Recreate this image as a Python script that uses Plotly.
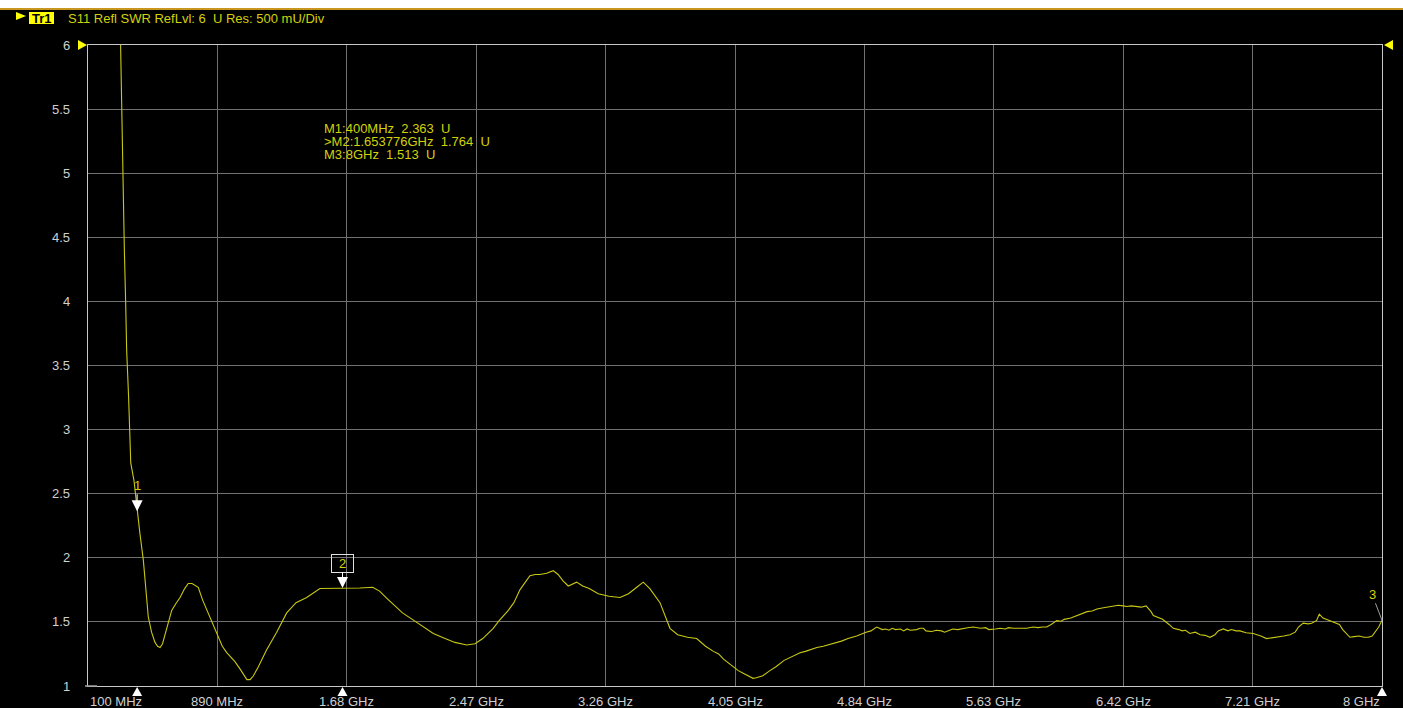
import plotly.graph_objects as go

# ---------------- data ----------------
freq_ghz = [
    0.299, 0.309, 0.312, 0.322, 0.330, 0.336, 0.348, 0.361, 0.381, 0.400, 0.417, 0.438,
    0.452, 0.468, 0.488, 0.509, 0.525, 0.540, 0.555, 0.570, 0.590, 0.611, 0.635, 0.662,
    0.690, 0.712, 0.735, 0.750, 0.773, 0.800, 0.845, 0.870, 0.896, 0.920, 0.947, 0.975,
    0.997, 1.030, 1.055, 1.070, 1.090, 1.110, 1.140, 1.190, 1.252, 1.313, 1.370, 1.435,
    1.516, 1.560, 1.600, 1.654, 1.700, 1.760, 1.838, 1.880, 1.920, 1.970, 2.020, 2.080,
    2.140, 2.208, 2.280, 2.340, 2.412, 2.463, 2.510, 2.574, 2.610, 2.666, 2.700, 2.737,
    2.770, 2.798, 2.830, 2.859, 2.900, 2.940, 2.970, 3.000, 3.032, 3.060, 3.083, 3.120,
    3.160, 3.215, 3.250, 3.280, 3.348, 3.400, 3.450, 3.490, 3.530, 3.592, 3.653, 3.700,
    3.730, 3.760, 3.816, 3.840, 3.870, 3.918, 3.950, 3.980, 4.010, 4.040, 4.070, 4.100,
    4.142, 4.160, 4.180, 4.220, 4.263, 4.300, 4.350, 4.400, 4.447, 4.480, 4.520, 4.550,
    4.589, 4.620, 4.650, 4.700, 4.740, 4.793, 4.850, 4.880, 4.915, 4.950, 4.970, 4.990,
    5.010, 5.030, 5.060, 5.080, 5.100, 5.120, 5.159, 5.180, 5.200, 5.216, 5.250, 5.280,
    5.310, 5.330, 5.360, 5.380, 5.410, 5.440, 5.470, 5.504, 5.530, 5.550, 5.580, 5.600,
    5.640, 5.668, 5.700, 5.720, 5.750, 5.780, 5.810, 5.831, 5.870, 5.900, 5.930, 5.953,
    5.980, 6.014, 6.040, 6.060, 6.100, 6.136, 6.170, 6.200, 6.230, 6.260, 6.300, 6.339,
    6.370, 6.390, 6.420, 6.441, 6.470, 6.500, 6.530, 6.560, 6.590, 6.604, 6.630, 6.660,
    6.700, 6.726, 6.760, 6.780, 6.800, 6.827, 6.860, 6.890, 6.920, 6.950, 6.980, 7.000,
    7.031, 7.060, 7.080, 7.110, 7.133, 7.170, 7.214, 7.240, 7.260, 7.296, 7.330, 7.360,
    7.400, 7.438, 7.470, 7.490, 7.519, 7.550, 7.570, 7.600, 7.617, 7.640, 7.660, 7.690,
    7.712, 7.740, 7.760, 7.804, 7.830, 7.860, 7.890, 7.917, 7.940, 7.960, 7.980, 8.000,
]
swr = [
    6.00, 5.34, 4.85, 4.40, 3.99, 3.62, 3.25, 2.74, 2.60, 2.363, 2.19, 1.98,
    1.75, 1.54, 1.42, 1.34, 1.31, 1.30, 1.33, 1.40, 1.50, 1.59, 1.64, 1.69,
    1.76, 1.80, 1.80, 1.79, 1.77, 1.67, 1.54, 1.46, 1.38, 1.31, 1.26, 1.22,
    1.19, 1.13, 1.08, 1.05, 1.05, 1.08, 1.15, 1.28, 1.42, 1.57, 1.65, 1.69,
    1.76, 1.76, 1.765, 1.764, 1.765, 1.765, 1.77, 1.74, 1.69, 1.63, 1.57, 1.52,
    1.47, 1.41, 1.37, 1.34, 1.32, 1.33, 1.37, 1.45, 1.51, 1.59, 1.65, 1.75,
    1.81, 1.86, 1.87, 1.87, 1.88, 1.90, 1.87, 1.82, 1.78, 1.80, 1.81, 1.78,
    1.76, 1.72, 1.71, 1.70, 1.69, 1.72, 1.77, 1.81, 1.76, 1.65, 1.45, 1.40,
    1.39, 1.38, 1.37, 1.34, 1.31, 1.27, 1.25, 1.21, 1.18, 1.15, 1.12, 1.10,
    1.07, 1.06, 1.065, 1.08, 1.12, 1.15, 1.20, 1.23, 1.26, 1.27, 1.29, 1.30,
    1.31, 1.32, 1.33, 1.35, 1.37, 1.39, 1.42, 1.43, 1.46, 1.44, 1.445, 1.435,
    1.45, 1.44, 1.445, 1.43, 1.445, 1.435, 1.44, 1.45, 1.45, 1.43, 1.425, 1.435,
    1.43, 1.42, 1.435, 1.445, 1.44, 1.45, 1.455, 1.46, 1.455, 1.45, 1.455, 1.44,
    1.445, 1.45, 1.445, 1.455, 1.45, 1.45, 1.455, 1.45, 1.46, 1.455, 1.46, 1.46,
    1.48, 1.51, 1.505, 1.52, 1.53, 1.55, 1.565, 1.58, 1.585, 1.60, 1.61, 1.62,
    1.625, 1.63, 1.625, 1.62, 1.625, 1.62, 1.615, 1.625, 1.58, 1.55, 1.535, 1.52,
    1.48, 1.45, 1.44, 1.43, 1.435, 1.41, 1.42, 1.40, 1.395, 1.38, 1.40, 1.43,
    1.445, 1.43, 1.44, 1.43, 1.43, 1.415, 1.41, 1.40, 1.39, 1.37, 1.375, 1.38,
    1.39, 1.40, 1.42, 1.46, 1.49, 1.485, 1.49, 1.51, 1.56, 1.53, 1.52, 1.51,
    1.50, 1.48, 1.44, 1.38, 1.385, 1.39, 1.38, 1.38, 1.39, 1.43, 1.46, 1.513,
]

x_tick_vals = [0.1, 0.89, 1.68, 2.47, 3.26, 4.05, 4.84, 5.63, 6.42, 7.21, 8.0]
x_tick_text = ["100 MHz", "890 MHz", "1.68 GHz", "2.47 GHz", "3.26 GHz", "4.05 GHz",
               "4.84 GHz", "5.63 GHz", "6.42 GHz", "7.21 GHz", "8 GHz"]
y_tick_vals = [1, 1.5, 2, 2.5, 3, 3.5, 4, 4.5, 5, 5.5, 6]
y_tick_text = ["1", "1.5", "2", "2.5", "3", "3.5", "4", "4.5", "5", "5.5", "6"]

marker_labels = ["1", "2", "3"]
marker_freq = [0.4, 1.653776, 8.0]
marker_swr = [2.363, 1.764, 1.513]
readout_lines = ["M1:400MHz  2.363  U", ">M2:1.653776GHz  1.764  U", "M3:8GHz  1.513  U"]
header_text = "S11 Refl SWR RefLvl: 6  U Res: 500 mU/Div"
trace_name = "Tr1"

# ---------------- style ----------------
FONT = "Liberation Sans, Arial, sans-serif"
FS = 13
TRACE_COL = "#c8c814"
TEXT_YEL = "#d2d20a"
BRIGHT_YEL = "#ffff00"
GRID_COL = "#707070"
BORDER_COL = "#c8c8c8"
LABEL_COL = "#d0d0d0"

FIG_W, FIG_H = 1403, 708
L, R, T, B = 88, 1382, 45, 686
X_MIN, X_MAX = x_tick_vals[0], x_tick_vals[-1]


def nb(s):
    return s.replace(" ", "\u00a0")


fig = go.Figure()
fig.add_trace(go.Scatter(x=freq_ghz, y=swr, mode="lines",
                         line=dict(color=TRACE_COL, width=1.1),
                         hoverinfo="skip", showlegend=False))

annotations = []
shapes = []

# y tick labels
for v, t in zip(y_tick_vals, y_tick_text):
    annotations.append(dict(xref="paper", x=0, xanchor="right", xshift=-16,
                            yref="y", y=v, yanchor="middle", text=t, showarrow=False,
                            font=dict(family=FONT, size=FS, color=LABEL_COL)))
# x tick labels
for i, (v, t) in enumerate(zip(x_tick_vals, x_tick_text)):
    anchor = "left" if i == 0 else ("right" if i == len(x_tick_vals) - 1 else "center")
    annotations.append(dict(xref="x", x=v, xanchor=anchor, yref="paper", y=0,
                            yanchor="middle", yshift=-15.5, text=nb(t), showarrow=False,
                            font=dict(family=FONT, size=FS, color=LABEL_COL)))

# header
annotations.append(dict(xref="paper", x=0, xshift=-46.5, xanchor="center",
                        yref="paper", y=1, yshift=27, yanchor="middle",
                        text="<b>" + trace_name + "</b>", showarrow=False,
                        font=dict(family=FONT, size=FS, color="#000000")))
annotations.append(dict(xref="paper", x=0, xshift=-22, xanchor="left",
                        yref="paper", y=1, yshift=27, yanchor="middle",
                        text=nb(header_text), showarrow=False,
                        font=dict(family=FONT, size=FS, color=TEXT_YEL)))
# marker readouts
for i, line in enumerate(readout_lines):
    annotations.append(dict(xref="paper", x=0, xshift=234, xanchor="left",
                            yref="paper", y=1, yshift=-(83 + 13 * i), yanchor="middle",
                            text=nb(line).replace(">", "&gt;"), showarrow=False,
                            font=dict(family=FONT, size=FS, color=TEXT_YEL)))

# marker flags on the trace
annotations.append(dict(x=marker_freq[0], y=marker_swr[0], xref="x", yref="y",
                        text=marker_labels[0], showarrow=True, ax=0, ay=-26,
                        arrowhead=2, arrowsize=2.2, arrowwidth=1, arrowcolor="#ffffff",
                        font=dict(family=FONT, size=FS, color=TEXT_YEL)))
annotations.append(dict(x=marker_freq[1], y=marker_swr[1], xref="x", yref="y",
                        text=marker_labels[1], showarrow=True, ax=0, ay=-25,
                        arrowhead=2, arrowsize=2.2, arrowwidth=1, arrowcolor="#ffffff",
                        bordercolor="#e0e0e0", borderwidth=1, borderpad=1,
                        width=19, height=15,
                        font=dict(family=FONT, size=FS, color=TEXT_YEL)))
annotations.append(dict(x=marker_freq[2], y=marker_swr[2], xref="x", yref="y",
                        text=marker_labels[2], showarrow=True, ax=-10, ay=-26,
                        arrowhead=0, arrowwidth=1, arrowcolor="#a0a0a0",
                        font=dict(family=FONT, size=FS, color=TEXT_YEL)))

# top white band and orange rule
shapes.append(dict(type="rect", xref="paper", yref="paper", xsizemode="pixel", ysizemode="pixel",
                   xanchor=0, yanchor=1, x0=-L, x1=FIG_W - L, y0=T - 8, y1=T + 2,
                   fillcolor="#ffffff", line=dict(width=0), layer="above"))
shapes.append(dict(type="rect", xref="paper", yref="paper", xsizemode="pixel", ysizemode="pixel",
                   xanchor=0, yanchor=1, x0=-L, x1=FIG_W - L, y0=T - 10, y1=T - 8,
                   fillcolor="#c8961e", line=dict(width=0), layer="above"))
# header triangle and Tr1 box
shapes.append(dict(type="path", xref="paper", yref="paper", xsizemode="pixel", ysizemode="pixel",
                   xanchor=0, yanchor=1, path="M-72,33 L-62,29 L-72,25 Z",
                   fillcolor=BRIGHT_YEL, line=dict(width=0), layer="above"))
shapes.append(dict(type="rect", xref="paper", yref="paper", xsizemode="pixel", ysizemode="pixel",
                   xanchor=0, yanchor=1, x0=-59, x1=-34, y0=21, y1=33,
                   fillcolor=BRIGHT_YEL, line=dict(width=0), layer="below"))
# reference-level triangles
shapes.append(dict(type="path", xref="paper", yref="paper", xsizemode="pixel", ysizemode="pixel",
                   xanchor=0, yanchor=1, path="M-10,5 L-1,0 L-10,-5 Z",
                   fillcolor=BRIGHT_YEL, line=dict(width=0), layer="above"))
shapes.append(dict(type="path", xref="paper", yref="paper", xsizemode="pixel", ysizemode="pixel",
                   xanchor=1, yanchor=1, path="M2,0 L11,5 L11,-5 Z",
                   fillcolor=BRIGHT_YEL, line=dict(width=0), layer="above"))
# short stub at bottom-left
shapes.append(dict(type="path", xref="paper", yref="paper", xsizemode="pixel", ysizemode="pixel",
                   xanchor=0, yanchor=0, path="M-3,0 L9,0",
                   line=dict(color="#a0a0a0", width=1.5), layer="above"))
# marker position triangles below the frequency axis (x-domain ref so they are not clipped)
for f in marker_freq:
    shapes.append(dict(type="path", xref="x domain", yref="paper", xsizemode="pixel",
                       ysizemode="pixel", xanchor=(f - X_MIN) / (X_MAX - X_MIN), yanchor=0,
                       path="M-5,-10 L5,-10 L0,-1 Z",
                       fillcolor="#ffffff", line=dict(width=0), layer="above"))

fig.update_layout(
    width=FIG_W, height=FIG_H,
    margin=dict(l=L, r=FIG_W - R, t=T, b=FIG_H - B, pad=0),
    paper_bgcolor="#000000", plot_bgcolor="#000000",
    showlegend=False,
    xaxis=dict(range=[X_MIN, X_MAX], tickvals=x_tick_vals,
               showticklabels=False, ticks="", showgrid=True, gridcolor=GRID_COL,
               gridwidth=1, zeroline=False, showline=True, mirror=True,
               linecolor=BORDER_COL, linewidth=1, fixedrange=True),
    yaxis=dict(range=[y_tick_vals[0], y_tick_vals[-1]], tickvals=y_tick_vals,
               showticklabels=False, ticks="", showgrid=True, gridcolor=GRID_COL,
               gridwidth=1, zeroline=False, showline=True, mirror=True,
               linecolor=BORDER_COL, linewidth=1, fixedrange=True),
    annotations=annotations,
    shapes=shapes,
    font=dict(family=FONT),
)

fig.write_html("out.html", config={"displayModeBar": False},
               post_script="document.body.style.margin='0';document.body.style.overflow='hidden';")
